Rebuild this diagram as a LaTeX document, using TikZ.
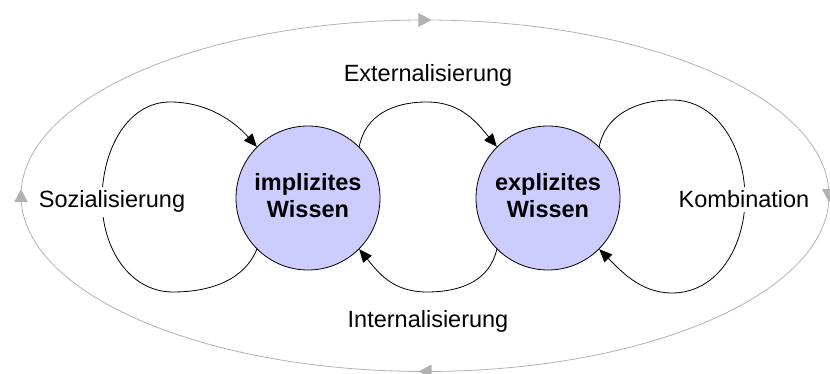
\documentclass[tikz,border=0pt]{standalone}
\usepackage{fontspec}
\setmainfont{Liberation Sans}
\usetikzlibrary{arrows.meta,decorations.markings}
\definecolor{wissenfill}{RGB}{204,204,255}
\definecolor{cyclegray}{RGB}{178,178,178}
\begin{document}
\begin{tikzpicture}[x=1pt,y=1pt,
  wissen/.style={circle, draw=black, line width=0.8pt, fill=wissenfill,
    minimum size=144pt, inner sep=0pt, align=center,
    font=\bfseries\fontsize{23.5}{27}\selectfont},
  phase/.style={font=\fontsize{23.5}{28}\selectfont, fill=white,
    inner sep=4pt, anchor=base},
  turn/.style={draw=black, line width=0.8pt,
    -{Triangle[length=13pt,width=11pt]}},
  graytip/.style={fill=cyclegray, draw=none},
  spiral/.style={draw=cyclegray, line width=0.8pt, postaction={decorate},
    decoration={markings,
      mark=at position 0 with {\fill[graytip] (-6.5,0) -- (6.5,7) -- (6.5,-7) -- cycle;},
      mark=at position 0.25 with {\fill[graytip] (-6.5,0) -- (6.5,7) -- (6.5,-7) -- cycle;},
      mark=at position 0.5 with {\fill[graytip] (-6.5,0) -- (6.5,7) -- (6.5,-7) -- cycle;},
      mark=at position 0.75 with {\fill[graytip] (-6.5,0) -- (6.5,7) -- (6.5,-7) -- cycle;}}}]
\useasboundingbox (0,0) rectangle (830,374);
\clip (0,0) rectangle (830,374);

% outer knowledge spiral
\draw[spiral] (425,178.25) ellipse [x radius=404, y radius=175.75];

% the two kinds of knowledge (the strut lifts the text slightly)
\node[wissen] (imp) at (308,176) {implizites\\Wissen\rule[-6pt]{0pt}{6pt}};
\node[wissen] (exp) at (548,176) {explizites\\Wissen\rule[-6pt]{0pt}{6pt}};

% Sozialisierung: implicit -> implicit
\draw[turn] (imp.225) .. controls (245,95) and (212,82) .. (173,82)
  .. controls (130,82) and (102,125) .. (102,174)
  .. controls (102,225) and (128,272) .. (170,272)
  .. controls (208,272) and (235,252) .. (imp.135);

% Externalisierung: implicit -> explicit
\draw[turn] (imp.45) .. controls (365,258) and (392,272) .. (427,272)
  .. controls (462,272) and (478,250) .. (exp.135);

% Internalisierung: explicit -> implicit
\draw[turn] (exp.225) .. controls (490,94) and (462,82) .. (427,82)
  .. controls (392,82) and (378,102) .. (imp.315);

% Kombination: explicit -> explicit
\draw[turn] (exp.45) .. controls (605,258) and (635,274) .. (672,274)
  .. controls (718,274) and (745,225) .. (745,176)
  .. controls (745,128) and (718,81) .. (672,81)
  .. controls (640,81) and (620,104) .. (exp.315);

% phase labels
\node[phase] (ext) at (428,292) {Externalisierung};
\node[phase] (int) at (428,46) {Internalisierung};
\node[phase] (soz) at (112,166) {Sozialisierung};
\node[phase] (kom) at (744,166) {Kombination};
\end{tikzpicture}
\end{document}
